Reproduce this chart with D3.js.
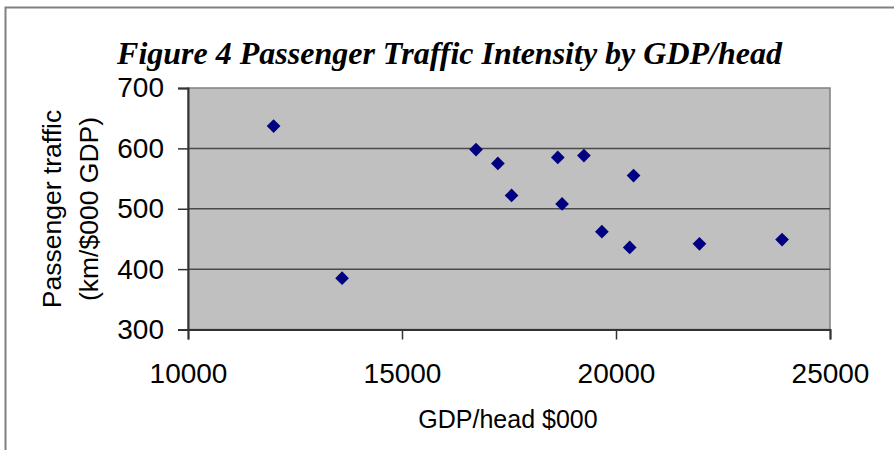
<!DOCTYPE html>
<html>
<head>
<meta charset="utf-8">
<script src="https://cdn.jsdelivr.net/npm/d3@7"></script>
<style>
  body { margin: 0; background: #fff; }
  svg { display: block; }
</style>
</head>
<body>
<svg id="chart" width="894" height="450"></svg>
<script>
var gdpPerHead = [12000, 13600, 16730, 17240, 17560, 18640, 18740, 19250, 20410, 19670, 20320, 21950, 23880]
var passengerTraffic = [637, 385, 598, 575, 522, 585, 508, 588, 555, 462, 436, 442, 449]
var xTicks = [10000, 15000, 20000, 25000]
var yTicks = [300, 400, 500, 600, 700]
var titleText = "Figure 4 Passenger Traffic Intensity by GDP/head"
var xTitle = "GDP/head $000"
var yTitleLines = ["Passenger traffic", "(km/$000 GDP)"]

var svg = d3.select("#chart")
var sans = "Liberation Sans, Arial, sans-serif"

var plot = {left: 188, right: 830, top: 88, bottom: 329.5}

var x = d3.scaleLinear().domain([10000, 25000]).range([plot.left, plot.right])
var y = d3.scaleLinear().domain([300, 700]).range([plot.bottom, plot.top])

// outer frame (only top and left edges show)
svg.append("path")
    .attr("d", "M5.5,450 V7.5 H894")
    .attr("fill", "none")
    .attr("stroke", "#808080")
    .attr("stroke-width", 2)

svg.append("text")
    .attr("x", 449.5)
    .attr("y", 64)
    .attr("text-anchor", "middle")
    .attr("font-family", "Liberation Serif, Times New Roman, serif")
    .attr("font-weight", "bold")
    .attr("font-style", "italic")
    .attr("font-size", 32)
    .text(titleText)

// plot area
svg.append("rect")
    .attr("x", plot.left)
    .attr("y", plot.top)
    .attr("width", plot.right - plot.left)
    .attr("height", plot.bottom - plot.top)
    .attr("fill", "#c0c0c0")
    .attr("stroke", "#808080")
    .attr("stroke-width", 1.5)

svg.append("g")
    .selectAll("line")
    .data(yTicks.slice(1, -1))
    .enter().append("line")
    .attr("x1", plot.left)
    .attr("x2", plot.right)
    .attr("y1", d => y(d))
    .attr("y2", d => y(d))
    .attr("stroke", "#4a4a4a")
    .attr("stroke-width", 1.5)

var xAxis = svg.append("g")
    .attr("transform", "translate(0," + plot.bottom + ")")
    .call(d3.axisBottom(x).tickValues(xTicks).tickFormat(d3.format("d")).tickSize(10).tickPadding(24))
var yAxis = svg.append("g")
    .attr("transform", "translate(" + plot.left + ",0)")
    .call(d3.axisLeft(y).tickValues(yTicks).tickSize(10).tickPadding(14))

xAxis.select(".domain").attr("stroke", "#333").attr("stroke-width", 2)
yAxis.select(".domain").attr("stroke", "#333").attr("stroke-width", 2)
svg.selectAll(".tick line").attr("stroke", "#333").attr("stroke-width", 1.5)
svg.selectAll(".tick text")
    .attr("font-family", sans)
    .attr("font-size", 28)
    .attr("fill", "#000")

svg.append("text")
    .attr("x", 508)
    .attr("y", 428)
    .attr("text-anchor", "middle")
    .attr("font-family", sans)
    .attr("font-size", 25)
    .text(xTitle)

svg.append("g")
    .selectAll("text")
    .data(yTitleLines)
    .enter().append("text")
    .attr("transform", (d, i) => "translate(" + (61 + i * 37) + ",209) rotate(-90)")
    .attr("text-anchor", "middle")
    .attr("font-family", sans)
    .attr("font-size", 26.5)
    .text(d => d)

var diamond = d3.symbol().type(d3.symbolDiamond2).size(120)

svg.append("g")
    .selectAll("path")
    .data(gdpPerHead)
    .enter().append("path")
    .attr("transform", (d, i) => "translate(" + x(d) + "," + y(passengerTraffic[i]) + ")")
    .attr("d", diamond)
    .attr("fill", "#000080")
</script>
</body>
</html>
